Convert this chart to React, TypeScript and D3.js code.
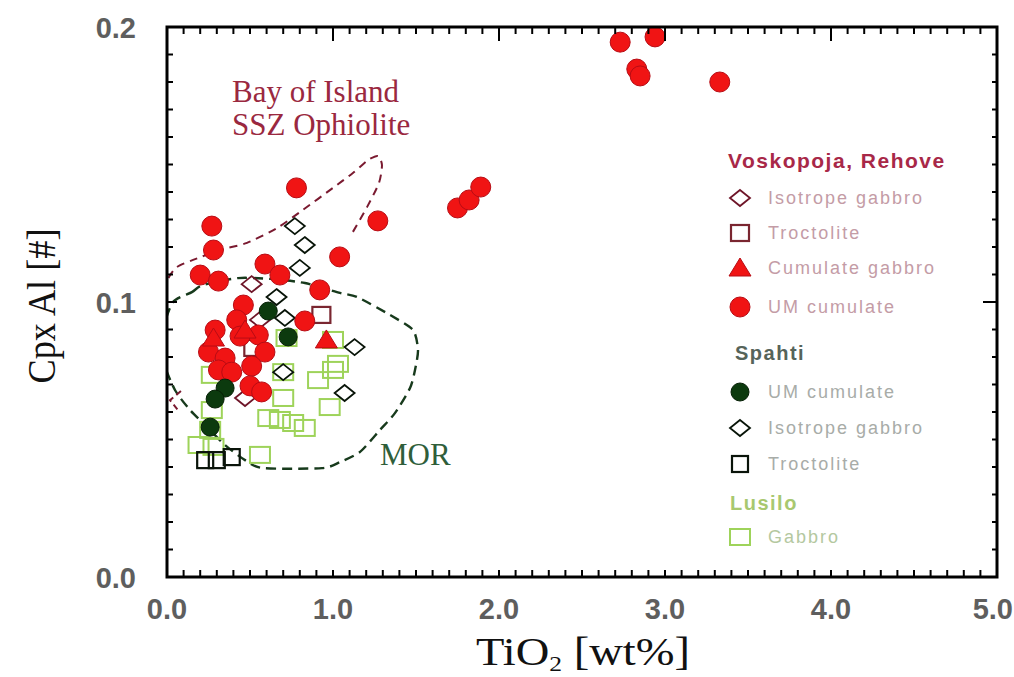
import React from "react";
import * as d3 from "d3";

// ---- data: TiO2 [wt%] vs Cpx Al ----
// Voskopoja, Rehove
const vUmCumTiO2 = [2.73, 2.94, 2.83, 2.85, 3.33, 1.75, 1.82, 1.89, 0.78, 1.27, 0.27, 0.28, 1.04, 0.2, 0.31, 0.59, 0.68, 0.92, 0.83, 0.46, 0.42, 0.29, 0.25, 0.35, 0.31, 0.39, 0.55, 0.59, 0.51, 0.5, 0.57, 0.44];
const vUmCumAl = [0.1945, 0.1964, 0.1847, 0.1822, 0.18, 0.1342, 0.1371, 0.1418, 0.1415, 0.1295, 0.1276, 0.1189, 0.1164, 0.1098, 0.1076, 0.1138, 0.1098, 0.1044, 0.0931, 0.0989, 0.0935, 0.0898, 0.0818, 0.0796, 0.0753, 0.0745, 0.088, 0.0818, 0.0767, 0.0695, 0.0673, 0.0876];
const vCumGabTiO2 = [0.28, 0.96, 0.47];
const vCumGabAl = [0.0869, 0.0862, 0.0898];
const vIsoGabTiO2 = [0.51, 0.47, 0.56];
const vIsoGabAl = [0.1065, 0.0651, 0.0935];
const vTrocTiO2 = [0.93, 0.52];
const vTrocAl = [0.0953, 0.0833];
// Spahti
const sUmCumTiO2 = [0.61, 0.35, 0.29, 0.73, 0.26];
const sUmCumAl = [0.0967, 0.0687, 0.0647, 0.0873, 0.0545];
const sIsoGabTiO2 = [0.77, 0.83, 0.8, 0.66, 0.7, 1.13, 1.07, 0.71];
const sIsoGabAl = [0.1276, 0.1207, 0.1124, 0.1018, 0.0745, 0.0836, 0.0669, 0.0942];
const sTrocTiO2 = [0.23, 0.3, 0.39];
const sTrocAl = [0.0425, 0.0425, 0.0436];
// Lusilo
const lGabTiO2 = [0.19, 0.28, 0.26, 0.27, 0.27, 0.56, 0.7, 0.72, 0.7, 0.61, 0.68, 0.76, 0.83, 0.91, 0.98, 1.0, 1.03, 1.0];
const lGabAl = [0.048, 0.0473, 0.0535, 0.0607, 0.0735, 0.0444, 0.0745, 0.0869, 0.0651, 0.0578, 0.0571, 0.056, 0.0542, 0.0716, 0.0618, 0.0753, 0.0775, 0.0862];

// field outlines
const morTiO2 = [0.036, 0.15, 0.217, 0.428, 0.62, 0.831, 1.042, 1.145, 1.343, 1.482, 1.512, 1.494, 1.464, 1.373, 1.283, 1.163, 1.042, 0.934, 0.578, 0.47, 0.349, 0.229, 0.139, 0.048, -0.024, -0.024];
const morAl = [0.1, 0.1036, 0.1062, 0.1087, 0.1084, 0.1069, 0.1033, 0.1018, 0.0953, 0.0898, 0.0825, 0.0753, 0.0687, 0.0596, 0.0535, 0.0455, 0.0418, 0.0396, 0.0396, 0.0425, 0.048, 0.0553, 0.0607, 0.068, 0.0789, 0.0898];
const boiTiO2 = [1.12, 1.205, 1.277, 1.295, 1.271, 1.211, 1.12, 1.0, 0.819, 0.663, 0.482, 0.319, 0.157, 0.06, 0.006, -0.02];
const boiAl = [0.1255, 0.1345, 0.1433, 0.1498, 0.1531, 0.1516, 0.1469, 0.1415, 0.1335, 0.1269, 0.1215, 0.1189, 0.1153, 0.1127, 0.1083, 0.1];
const boiLowTiO2 = [0.084, 0.018, 0.066];
const boiLowAl = [0.0676, 0.0643, 0.0607];

const xTickLabels = ["0.0", "1.0", "2.0", "3.0", "4.0", "5.0"];
const yTickLabels = ["0.0", "0.1", "0.2"];

const W = 1014, H = 677;
const L = 167, R = 997, T = 27, B = 577;
const x = d3.scaleLinear().domain([0, 5]).range([L, R]);
const y = d3.scaleLinear().domain([0, 0.2]).range([B, T]);

const zip = (xs: number[], ys: number[]) => xs.map((v, i) => [v, ys[i]] as [number, number]);

const RED = "#f01414";
const RED_EDGE = "#b80c14";
const MAROON = "#6e1528";
const DKGREEN = "#0c3a0e";
const LGREEN = "#9ed35a";

const diamond = (w: number, h: number) => `M0,${-h}L${w},0L0,${h}L${-w},0Z`;
const tri = (s: number) => `M0,${-s}L${s * 1.1},${s * 0.8}L${-s * 1.1},${s * 0.8}Z`;

function Circle({ cx, cy, r, fill, stroke }: any) {
  return <circle cx={cx} cy={cy} r={r} fill={fill} stroke={stroke} strokeWidth={1} />;
}

export default function App() {
  const morPath = d3.line<[number, number]>().x((d) => x(d[0])).y((d) => y(d[1])).curve(d3.curveCardinalClosed.tension(0.3))(zip(morTiO2, morAl)) || "";
  const boiPath = d3.line<[number, number]>().x((d) => x(d[0])).y((d) => y(d[1])).curve(d3.curveCardinal.tension(0.3))(zip(boiTiO2, boiAl)) || "";
  const boiLowPath = d3.line<[number, number]>().x((d) => x(d[0])).y((d) => y(d[1]))(zip(boiLowTiO2, boiLowAl)) || "";

  const xMinor = d3.range(0, 51).map((i) => i / 10);
  const yMinor = d3.range(0, 21).map((i) => i / 100);

  const legendItems: { y: number; kind: string; text: string; color: string }[] = [
    { y: 198, kind: "vIso", text: "Isotrope gabbro", color: "#c49ca6" },
    { y: 233, kind: "vTroc", text: "Troctolite", color: "#c49ca6" },
    { y: 268, kind: "vTri", text: "Cumulate gabbro", color: "#c49ca6" },
    { y: 307, kind: "vCirc", text: "UM cumulate", color: "#c49ca6" },
    { y: 392, kind: "sCirc", text: "UM cumulate", color: "#a8aca8" },
    { y: 428, kind: "sIso", text: "Isotrope gabbro", color: "#a8aca8" },
    { y: 464, kind: "sTroc", text: "Troctolite", color: "#a8aca8" },
    { y: 537, kind: "lSq", text: "Gabbro", color: "#b4c8a0" },
  ];

  const marker = (kind: string, cx: number, cy: number, key: any) => {
    switch (kind) {
      case "vIso":
        return <path key={key} d={diamond(10, 8)} transform={`translate(${cx},${cy})`} fill="none" stroke={MAROON} strokeWidth={1.8} />;
      case "vTroc":
        return <rect key={key} x={cx - 9} y={cy - 8} width={18} height={16} fill="none" stroke="#7a2630" strokeWidth={2.2} />;
      case "vTri":
        return <path key={key} d={tri(10)} transform={`translate(${cx},${cy})`} fill={RED} stroke={RED_EDGE} strokeWidth={1} />;
      case "vCirc":
        return <Circle key={key} cx={cx} cy={cy} r={10} fill={RED} stroke={RED_EDGE} />;
      case "sCirc":
        return <Circle key={key} cx={cx} cy={cy} r={9} fill={DKGREEN} stroke="#062006" />;
      case "sIso":
        return <path key={key} d={diamond(10, 8)} transform={`translate(${cx},${cy})`} fill="none" stroke="#081408" strokeWidth={1.8} />;
      case "sTroc":
        return <rect key={key} x={cx - 8} y={cy - 8} width={16} height={16} fill="none" stroke="#0a140a" strokeWidth={2.2} />;
      case "lSq":
        return <rect key={key} x={cx - 10} y={cy - 8} width={20} height={16} fill="none" stroke={LGREEN} strokeWidth={2} />;
    }
    return null;
  };

  return (
    <svg width={W} height={H} style={{ position: "absolute", left: 0, top: 0, background: "#fff" }}>
      <defs>
        <clipPath id="plotClip">
          <rect x={L} y={T} width={R - L} height={B - T} />
        </clipPath>
      </defs>

      {/* field boundaries */}
      <g clipPath="url(#plotClip)">
        <path d={morPath} fill="none" stroke="#173a1c" strokeWidth={2.4} strokeDasharray="10 6" />
        <path d={boiPath} fill="none" stroke="#7a1a30" strokeWidth={2} strokeDasharray="8 6" />
        <path d={boiLowPath} fill="none" stroke="#7a1a30" strokeWidth={2} strokeDasharray="6 4" />
      </g>

      {/* samples */}
      <g clipPath="url(#plotClip)">
        {zip(lGabTiO2, lGabAl).map((d, i) => marker("lSq", x(d[0]), y(d[1]), "l" + i))}
        {zip(sTrocTiO2, sTrocAl).map((d, i) => marker("sTroc", x(d[0]), y(d[1]), "st" + i))}
        {zip(sIsoGabTiO2, sIsoGabAl).map((d, i) => marker("sIso", x(d[0]), y(d[1]), "si" + i))}
        {zip(vIsoGabTiO2, vIsoGabAl).map((d, i) => marker("vIso", x(d[0]), y(d[1]), "vi" + i))}
        {zip(vTrocTiO2, vTrocAl).map((d, i) => marker("vTroc", x(d[0]), y(d[1]), "vt" + i))}
        {zip(vUmCumTiO2, vUmCumAl).map((d, i) => marker("vCirc", x(d[0]), y(d[1]), "vc" + i))}
        {zip(vCumGabTiO2, vCumGabAl).map((d, i) => marker("vTri", x(d[0]), y(d[1]), "vg" + i))}
        {zip(sUmCumTiO2, sUmCumAl).map((d, i) => marker("sCirc", x(d[0]), y(d[1]), "sc" + i))}
      </g>

      {/* frame and ticks */}
      <g stroke="#000">
        {xMinor.map((v, i) => {
          const major = Math.abs(v - Math.round(v)) < 1e-6;
          return (
            <g key={"xt" + i}>
              <line x1={x(v)} x2={x(v)} y1={T} y2={T + (major ? 14 : 7)} strokeWidth={2} />
              <line x1={x(v)} x2={x(v)} y1={B} y2={B - 7} strokeWidth={2} />
            </g>
          );
        })}
        {yMinor.map((v, i) => {
          const major = Math.abs(v * 10 - Math.round(v * 10)) < 1e-6;
          return (
            <g key={"yt" + i}>
              <line x1={L} x2={L + (major ? 10 : 6)} y1={y(v)} y2={y(v)} strokeWidth={2} />
              <line x1={R} x2={R - (major ? 14 : 5)} y1={y(v)} y2={y(v)} strokeWidth={2} />
            </g>
          );
        })}
        <rect x={L} y={T} width={R - L} height={B - T} fill="none" strokeWidth={3} />
      </g>

      {/* tick labels */}
      <g fontFamily="'Liberation Sans', Arial, sans-serif" fontSize={29} fontWeight="bold" fill="#5e5e5e">
        {xTickLabels.map((t, i) => (
          <text key={"xl" + t} x={x(+t)} y={619} textAnchor={i === xTickLabels.length - 1 ? "end" : "middle"} dx={i === xTickLabels.length - 1 ? 16 : 0}>{t}</text>
        ))}
        {yTickLabels.map((t) => (
          <text key={"yl" + t} x={136} y={y(+t) + 11} textAnchor="end">{t}</text>
        ))}
      </g>

      {/* axis titles */}
      <text x={583} y={665} textAnchor="middle" fontFamily="'Liberation Serif', 'Times New Roman', serif" fontSize={40} fill="#111" textLength={214} lengthAdjust="spacingAndGlyphs">
        TiO<tspan fontSize={22} dy={6}>2</tspan><tspan dy={-6}> [wt%]</tspan>
      </text>
      <text transform={`translate(55,${y(0.1) + 4}) rotate(-90)`} textAnchor="middle" fontFamily="'Liberation Serif', 'Times New Roman', serif" fontSize={40} fill="#111" textLength={155} lengthAdjust="spacingAndGlyphs">
        Cpx Al [#]
      </text>

      {/* field labels */}
      <g fontFamily="'Liberation Serif', 'Times New Roman', serif" fontSize={31}>
        <text x={232} y={102} fill="#9a2840">Bay of Island</text>
        <text x={232} y={135} fill="#9a2840">SSZ Ophiolite</text>
        <text x={380} y={465} fill="#2f5e3a">MOR</text>
      </g>

      {/* legend */}
      <g fontFamily="'Liberation Sans', Arial, sans-serif">
        <text x={728} y={168} fontSize={21} fontWeight="bold" letterSpacing={1.5} fill="#a82848">Voskopoja, Rehove</text>
        <text x={735} y={360} fontSize={20} fontWeight="bold" letterSpacing={1.5} fill="#56645a">Spahti</text>
        <text x={730} y={510} fontSize={20} fontWeight="bold" letterSpacing={1.5} fill="#a8c870">Lusilo</text>
        {legendItems.map((it, i) => (
          <g key={"lg" + i}>
            {marker(it.kind, 740, it.y, "lm" + i)}
            <text x={768} y={it.y + 6} fontSize={18} letterSpacing={2} fill={it.color}>{it.text}</text>
          </g>
        ))}
      </g>
    </svg>
  );
}
